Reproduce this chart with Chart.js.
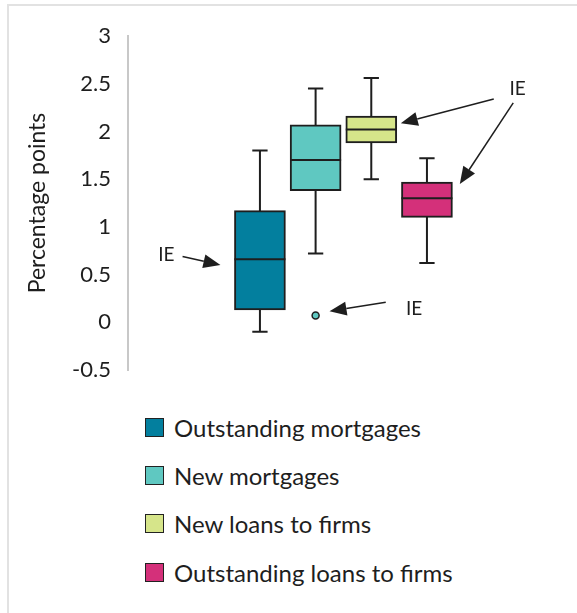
<!DOCTYPE html>
<html>
<head>
<meta charset="utf-8">
<script src="https://cdn.jsdelivr.net/npm/chart.js@4/dist/chart.umd.min.js"></script>
<style>
  body { margin: 0; background: #fff; font-family: Lato, sans-serif; color: #1e1e1e; }
  #frame { position: absolute; left: 7px; top: 4px; right: 0; bottom: 0; border-top: 2px solid #e2e2e2; border-left: 2px solid #e2e2e2; }
  #chart { position: absolute; left: 0; top: 0; }
  #legend { position: absolute; left: 145px; top: 403px; }
  .item { display: flex; align-items: center; height: 48.3px; font-size: 24px; }
  .swatch { width: 17px; height: 17px; border: 1.5px solid #222; margin-right: 10px; }
</style>
</head>
<body>
<div id="frame"></div>
<canvas id="chart" width="577" height="400"></canvas>
<div id="legend"></div>
<script>
const seriesNames = ['Outstanding mortgages', 'New mortgages', 'New loans to firms', 'Outstanding loans to firms'];
const positions = [1, 2, 3, 4];
const mins    = [-0.1, 0.72, 1.5, 0.62];
const q1s     = [0.13, 1.38, 1.88, 1.1];
const medians = [0.66, 1.7, 2.02, 1.3];
const q3s     = [1.17, 2.07, 2.16, 1.47];
const maxs    = [1.8, 2.45, 2.56, 1.72];
const outliers = [{ x: 2, y: 0.07 }];
const yTicks = [-0.5, 0, 0.5, 1, 1.5, 2, 2.5, 3];

// "IE" notes and arrows, in data units
const noteText = ['IE', 'IE', 'IE'];
const notePos = [[-0.68, 0.71], [3.77, 0.14], [5.63, 2.45]];
const arrowFrom = [[-0.39, 0.69], [3.26, 0.21], [5.2, 2.34], [5.55, 2.3]];
const arrowTo = [[0.29, 0.6], [2.25, 0.115], [3.53, 2.085], [4.59, 1.45]];

const colors = ['#037f9e', '#5fc8c1', '#d6e58a', '#d4307a'];
const ink = '#1e1e1e';

function arrow(ctx, x1, y1, x2, y2) {
  const a = Math.atan2(y2 - y1, x2 - x1), len = 17, hw = 7;
  const bx = x2 - len * Math.cos(a), by = y2 - len * Math.sin(a);
  ctx.beginPath(); ctx.moveTo(x1, y1); ctx.lineTo(bx, by); ctx.stroke();
  ctx.beginPath();
  ctx.moveTo(x2, y2);
  ctx.lineTo(bx + hw * Math.sin(a), by - hw * Math.cos(a));
  ctx.lineTo(bx - hw * Math.sin(a), by + hw * Math.cos(a));
  ctx.closePath(); ctx.fill();
}

const boxPlugin = {
  id: 'boxes',
  beforeDatasetsDraw(chart) {
    const { ctx, scales: { x, y } } = chart;
    ctx.save();
    ctx.strokeStyle = ink; ctx.lineWidth = 2;
    positions.forEach((p, i) => {
      const cx = x.getPixelForValue(p);
      const half = chart.getDatasetMeta(i).data[0].width * 0.15;
      ctx.beginPath();
      ctx.moveTo(cx, y.getPixelForValue(mins[i])); ctx.lineTo(cx, y.getPixelForValue(maxs[i]));
      [mins[i], maxs[i]].forEach(v => {
        const py = y.getPixelForValue(v);
        ctx.moveTo(cx - half, py); ctx.lineTo(cx + half, py);
      });
      ctx.stroke();
    });
    ctx.restore();
  },
  afterDatasetsDraw(chart) {
    const { ctx, scales: { x, y } } = chart;
    ctx.save();
    ctx.strokeStyle = ink; ctx.fillStyle = ink; ctx.lineWidth = 2;
    positions.forEach((p, i) => {
      const bar = chart.getDatasetMeta(i).data[0];
      const py = y.getPixelForValue(medians[i]);
      ctx.beginPath();
      ctx.moveTo(bar.x - bar.width / 2, py); ctx.lineTo(bar.x + bar.width / 2, py);
      ctx.stroke();
    });
    ctx.lineWidth = 1.5;
    arrowFrom.forEach((f, i) => {
      arrow(ctx, x.getPixelForValue(f[0]), y.getPixelForValue(f[1]),
        x.getPixelForValue(arrowTo[i][0]), y.getPixelForValue(arrowTo[i][1]));
    });
    ctx.font = '19px Lato';
    ctx.textAlign = 'center'; ctx.textBaseline = 'middle';
    noteText.forEach((t, i) => {
      ctx.fillText(t, x.getPixelForValue(notePos[i][0]), y.getPixelForValue(notePos[i][1]));
    });
    ctx.restore();
  }
};

const datasets = seriesNames.map((name, i) => ({
  label: name,
  data: [{ x: positions[i], y: [q1s[i], q3s[i]] }],
  backgroundColor: colors[i],
  borderColor: ink,
  borderWidth: 2,
  borderSkipped: false,
  barThickness: 51,
  grouped: false
}));
datasets.push({
  type: 'scatter',
  label: 'outlier',
  data: outliers,
  backgroundColor: colors[1],
  borderColor: ink,
  borderWidth: 1.5,
  pointRadius: 3.5
});

new Chart(document.getElementById('chart'), {
  type: 'bar',
  data: { datasets },
  options: {
    responsive: false,
    animation: false,
    layout: { padding: { top: 36, bottom: 30, right: 17, left: 0 } },
    plugins: { legend: { display: false }, tooltip: { enabled: false } },
    scales: {
      x: { type: 'linear', display: false, offset: false, min: -1.37, max: 6.39 },
      y: {
        min: -0.5, max: 3,
        afterBuildTicks: s => { s.ticks = yTicks.map(v => ({ value: v })); },
        afterFit: s => { s.width = 128; },
        grid: { display: false },
        border: { display: true, color: '#c8c8c8', width: 2 },
        ticks: { padding: 9, color: ink, font: { family: 'Lato', size: 22 }, callback: v => String(v) },
        title: { display: true, text: 'Percentage points', color: ink, font: { family: 'Lato', size: 23 }, padding: { top: 24, bottom: 0 } }
      }
    }
  },
  plugins: [boxPlugin]
});

const legend = document.getElementById('legend');
seriesNames.forEach((name, i) => {
  const row = document.createElement('div');
  row.className = 'item';
  row.innerHTML = '<span class="swatch" style="background:' + colors[i] + '"></span><span>' + name + '</span>';
  legend.appendChild(row);
});
</script>
</body>
</html>
